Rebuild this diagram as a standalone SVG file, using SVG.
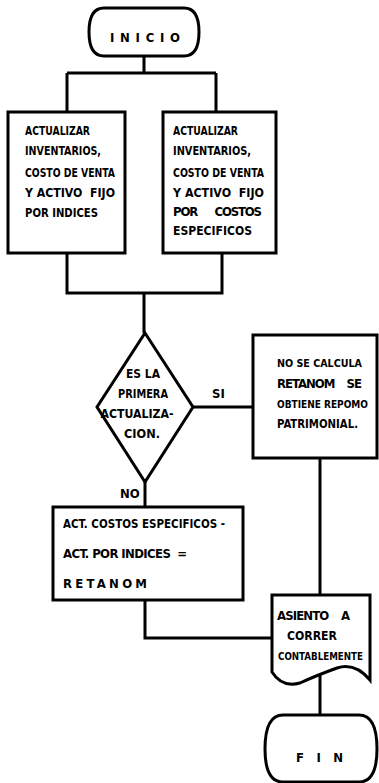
<svg xmlns="http://www.w3.org/2000/svg" width="379" height="783" viewBox="0 0 379 783">
<style>
.s{fill:#fff;stroke:#000;stroke-width:3}
.c{fill:none;stroke:#000;stroke-width:3}
text{font-family:"DejaVu Sans Condensed","DejaVu Sans","Liberation Sans",sans-serif;font-stretch:condensed;font-weight:bold;font-size:13px;fill:#000}
text.n{font-size:11px}
</style>
<rect width="379" height="783" fill="#fff"/>
<g id="connectors">
<path class="c" d="M144 56V73M67 73H216M67 73V112M216 73V112"/>
<path class="c" d="M67 253V293H222V253M144 293V333"/>
<path class="c" d="M193 407H253"/>
<path class="c" d="M145 482V507"/>
<path class="c" d="M320 458V595"/>
<path class="c" d="M145 600V638H272"/>
<path class="c" d="M320 670V715"/>
<text x="212" y="398">SI</text>
<text x="120" y="498">NO</text>
</g>
<g id="inicio">
<path class="s" d="M104 8H184Q199 8 199 32Q199 56 184 56H104Q89 56 89 32Q89 8 104 8Z"/>
<text x="110" y="42" textLength="70" lengthAdjust="spacing">INICIO</text>
</g>
<g id="indices">
<rect class="s" x="8" y="112" width="117" height="141"/>
<text x="25" y="135" textLength="65" lengthAdjust="spacingAndGlyphs">ACTUALIZAR</text>
<text x="25" y="155" textLength="76" lengthAdjust="spacingAndGlyphs">INVENTARIOS,</text>
<text x="25" y="177" textLength="90" lengthAdjust="spacingAndGlyphs">COSTO DE VENTA</text>
<text x="25" y="197" textLength="90" lengthAdjust="spacingAndGlyphs" xml:space="preserve">Y ACTIVO  FIJO</text>
<text x="25" y="217" textLength="73" lengthAdjust="spacingAndGlyphs">POR INDICES</text>
</g>
<g id="especificos">
<rect class="s" x="163" y="112" width="113" height="141"/>
<text x="173" y="135" textLength="65" lengthAdjust="spacingAndGlyphs">ACTUALIZAR</text>
<text x="173" y="155" textLength="78" lengthAdjust="spacingAndGlyphs">INVENTARIOS,</text>
<text x="173" y="177" textLength="91" lengthAdjust="spacingAndGlyphs">COSTO DE VENTA</text>
<text x="173" y="197" textLength="91" lengthAdjust="spacingAndGlyphs" xml:space="preserve">Y ACTIVO  FIJO</text>
<text x="173" y="216" textLength="89" lengthAdjust="spacing" xml:space="preserve">POR      COSTOS</text>
<text x="173" y="235" textLength="79" lengthAdjust="spacingAndGlyphs">ESPECIFICOS</text>
</g>
<g id="decision">
<path class="s" d="M145 333L193 407L145 482L97 407Z"/>
<text x="143" y="378" text-anchor="middle" textLength="34" lengthAdjust="spacingAndGlyphs">ES LA</text>
<text x="143" y="398" text-anchor="middle" textLength="50" lengthAdjust="spacingAndGlyphs">PRIMERA</text>
<text x="137" y="418" text-anchor="middle" textLength="73" lengthAdjust="spacingAndGlyphs">ACTUALIZA-</text>
<text x="142" y="438" text-anchor="middle" textLength="36" lengthAdjust="spacingAndGlyphs">CION.</text>
</g>
<g id="repomo">
<rect class="s" x="253" y="335" width="124" height="123"/>
<text class="n" x="277" y="367" textLength="85" lengthAdjust="spacingAndGlyphs">NO SE CALCULA</text>
<text x="277" y="388" textLength="85" lengthAdjust="spacing" xml:space="preserve">RETANOM    SE</text>
<text class="n" x="277" y="408" textLength="91" lengthAdjust="spacingAndGlyphs">OBTIENE REPOMO</text>
<text x="277" y="428" textLength="81" lengthAdjust="spacingAndGlyphs">PATRIMONIAL.</text>
</g>
<g id="retanom">
<rect class="s" x="53" y="507" width="190" height="93"/>
<text x="63" y="528" textLength="162" lengthAdjust="spacingAndGlyphs">ACT. COSTOS ESPECIFICOS -</text>
<text x="63" y="558" textLength="124" lengthAdjust="spacing" xml:space="preserve">ACT. POR INDICES  =</text>
<text x="63" y="588" textLength="84" lengthAdjust="spacing">RETANOM</text>
</g>
<g id="asiento">
<path class="s" d="M272 595H370V680Q355 662 337 668Q315 676 300 683Q282 688 272 672Z"/>
<text x="277" y="620" textLength="73" lengthAdjust="spacing" xml:space="preserve">ASIENTO    A</text>
<text x="287" y="640" textLength="50" lengthAdjust="spacingAndGlyphs">CORRER</text>
<text class="n" x="278" y="660" textLength="85" lengthAdjust="spacingAndGlyphs">CONTABLEMENTE</text>
</g>
<g id="fin">
<path class="s" d="M283 715H359Q377 715 377 749Q377 782 359 782H283Q265 782 265 749Q265 715 283 715Z"/>
<text x="296" y="762" textLength="47" lengthAdjust="spacing">FIN</text>
</g>
</svg>
